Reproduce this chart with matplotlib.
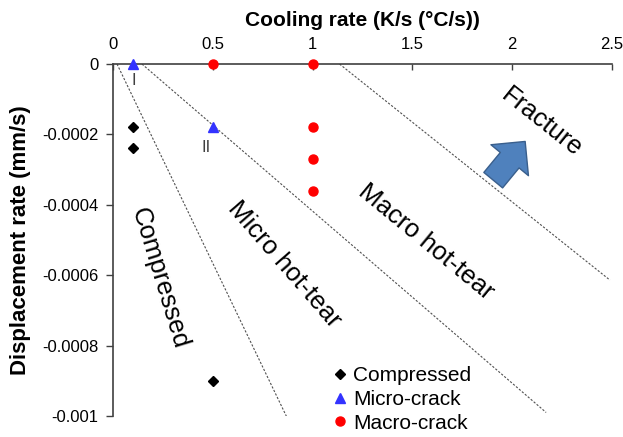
"""Hot-tear map: displacement rate vs cooling rate, with regime boundaries."""
import matplotlib
matplotlib.use('Agg')
import matplotlib.pyplot as plt

plt.rcParams['font.family'] = ['Liberation Sans', 'DejaVu Sans']

# Measured points
compressed_x = [0.1, 0.1, 0.5]
compressed_y = [-0.00018, -0.00024, -0.0009]
micro_x = [0.1, 0.5]
micro_y = [0.0, -0.00018]
macro_x = [0.5, 1.0, 1.0, 1.0, 1.0]
macro_y = [0.0, 0.0, -0.00018, -0.00027, -0.00036]

# Regime boundaries (dashed)
boundary_1_x = [0.02, 0.885]
boundary_1_y = [0.0, -0.00102]
boundary_2_x = [0.145, 2.17]
boundary_2_y = [0.0, -0.00099]
boundary_3_x = [1.135, 2.49]
boundary_3_y = [0.0, -0.000614]

x_ticks = [0, 0.5, 1, 1.5, 2, 2.5]
x_tick_labels = ['0', '0.5', '1', '1.5', '2', '2.5']
y_ticks = [0, -0.0002, -0.0004, -0.0006, -0.0008, -0.001]
y_tick_labels = ['0', '-0.0002', '-0.0004', '-0.0006', '-0.0008', '-0.001']

fig = plt.figure(figsize=(6.23, 4.37), dpi=100)
ax = fig.add_axes([0.1814, 0.0481, 0.8009, 0.8054])

axis_col = '#404040'
for xs, ys in [(boundary_1_x, boundary_1_y), (boundary_2_x, boundary_2_y),
               (boundary_3_x, boundary_3_y)]:
    ax.plot(xs, ys, color='#505050', linewidth=0.8, dashes=(2, 1.5), zorder=1)

ax.plot(compressed_x, compressed_y, 'D', color='black', markersize=5,
        linestyle='none', label='Compressed', zorder=3, clip_on=False)
ax.plot(micro_x, micro_y, '^', color='#3333FF', markersize=7.5,
        linestyle='none', label='Micro-crack', zorder=3, clip_on=False)
ax.plot(macro_x, macro_y, 'o', color='#FF0000', markersize=6.5,
        linestyle='none', label='Macro-crack', zorder=3, clip_on=False)

# Region labels
region_kw = dict(fontsize=18.5, ha='center', va='center', rotation_mode='anchor')
ax.text(0.235, -0.000608, 'Compressed', rotation=-73, **region_kw)
ax.text(0.86, -0.000568, 'Micro hot-tear', rotation=-49, **region_kw)
ax.text(1.57, -0.000506, 'Macro hot-tear', rotation=-39.5, **region_kw)
ax.text(2.15, -0.000165, 'Fracture', rotation=-38.5, **region_kw)

# Sample labels
ax.text(0.105, -0.0000455, 'I', fontsize=12, color='#404040', ha='center', va='center')
ax.text(0.465, -0.000236, 'II', fontsize=12, color='#404040', ha='center', va='center')

# Block arrow pointing to the fracture region
ax.annotate('', xy=(2.065, -0.00022), xytext=(1.905, -0.00033),
            arrowprops=dict(arrowstyle='simple,head_length=17.5,head_width=35,tail_width=17.5',
                            mutation_scale=1, fc='#4F81BD', ec='#3A5F8C', lw=1,
                            shrinkA=0, shrinkB=0))

ax.set_xlim(0, 2.5)
ax.set_ylim(-0.001, 0)
ax.set_xticks(x_ticks)
ax.set_xticklabels(x_tick_labels)
ax.set_yticks(y_ticks)
ax.set_yticklabels(y_tick_labels)

ax.xaxis.tick_top()
ax.xaxis.set_label_position('top')
ax.tick_params(axis='x', direction='in', length=4, width=1, color=axis_col,
               labelsize=12, pad=8.5)
ax.tick_params(axis='y', direction='out', length=5, width=1, color=axis_col,
               labelsize=12, pad=5.5)

for side in ['right', 'bottom']:
    ax.spines[side].set_visible(False)
for side in ['left', 'top']:
    ax.spines[side].set_color(axis_col)
    ax.spines[side].set_linewidth(1.2)

ax.set_xlabel('Cooling rate (K/s (°C/s))', fontsize=15, fontweight='bold', labelpad=8)
ax.set_ylabel('Displacement rate (mm/s)', fontsize=16, fontweight='bold', labelpad=8)

ax.legend(loc='center left', bbox_to_anchor=(0.443, 0.047), frameon=False,
          fontsize=15, handlelength=0.6, handletextpad=0.3, labelspacing=0.22,
          borderpad=0, borderaxespad=0)

fig.savefig('out.png', dpi=100)
